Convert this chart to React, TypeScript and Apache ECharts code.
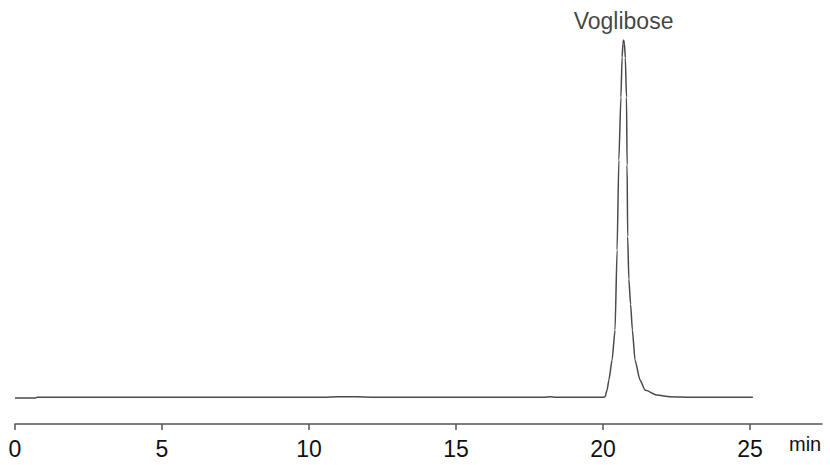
import React, { useEffect, useRef } from "react";
import * as echarts from "echarts";

// Retention time (min) and detector response (% of peak height)
const times: number[] = [
  0.0, 0.7, 0.75, 5.0, 10.5, 11.0, 11.6, 12.2, 18.0, 18.2, 18.4, 20.0,
  20.07, 20.14, 20.2, 20.31, 20.41, 20.48, 20.54, 20.61, 20.65, 20.68,
  20.7, 20.73, 20.76, 20.8, 20.82, 20.84, 20.88, 20.94, 21.0, 21.09,
  21.26, 21.43, 21.84, 22.28, 23.0, 25.1,
];
const signal: number[] = [
  -0.2, -0.2, 0, 0, 0, 0.1, 0.1, 0, 0, 0.15, 0, 0,
  0.15, 2.0, 4.8, 10.4, 18.8, 41.2, 66.4, 84.0, 95.2, 99.0,
  100, 99.0, 95.0, 84.0, 65.0, 45.0, 33.0, 26.0, 18.8, 10.4,
  4.8, 2.0, 0.6, 0.14, 0, 0,
];
const xTicks: number[] = [0, 5, 10, 15, 20, 25];
const peakName = "Voglibose";
const peakTime = 20.7;
const peakHeight = 100;
const xUnit = "min";

const FONT = "'Liberation Sans', Arial, sans-serif";

export default function App() {
  const ref = useRef<HTMLDivElement>(null);
  useEffect(() => {
    if (!ref.current) return;
    const chart = echarts.init(ref.current, null, { renderer: "svg" });
    chart.setOption({
      animation: false,
      backgroundColor: "#ffffff",
      grid: { left: 15, right: 8, top: 40, bottom: 41 },
      xAxis: {
        type: "value",
        min: 0,
        max: 27.45,
        interval: 5,
        axisLine: {
          show: true,
          onZero: false,
          lineStyle: { color: "#555", width: 1.5 },
        },
        axisTick: {
          show: true,
          inside: false,
          length: 6,
          customValues: xTicks,
          lineStyle: { color: "#555", width: 1.5 },
        },
        axisLabel: {
          customValues: xTicks,
          margin: 13,
          fontSize: 23,
          color: "#111",
          fontFamily: FONT,
        },
        splitLine: { show: false },
      },
      yAxis: {
        type: "value",
        show: false,
        min: -7.5,
        max: 100,
        splitLine: { show: false },
      },
      graphic: [
        {
          type: "text",
          left: 789,
          top: 434,
          style: { text: xUnit, fontSize: 20, fill: "#111", fontFamily: FONT },
        },
      ],
      series: [
        {
          type: "line",
          data: times.map((t, i) => [t, signal[i]]),
          showSymbol: false,
          symbol: "none",
          smooth: 0.2,
          smoothMonotone: "x",
          lineStyle: { color: "#4a4a4a", width: 1.5 },
          silent: true,
        },
        {
          type: "scatter",
          data: [[peakTime, peakHeight]],
          symbolSize: 0,
          silent: true,
          label: {
            show: true,
            position: "top",
            distance: 8,
            formatter: peakName,
            fontSize: 23,
            color: "#111",
            fontFamily: FONT,
          },
        },
      ],
    });
    return () => chart.dispose();
  }, []);
  return (
    <div
      ref={ref}
      style={{ position: "fixed", left: 0, top: 0, width: 830, height: 465 }}
    />
  );
}
